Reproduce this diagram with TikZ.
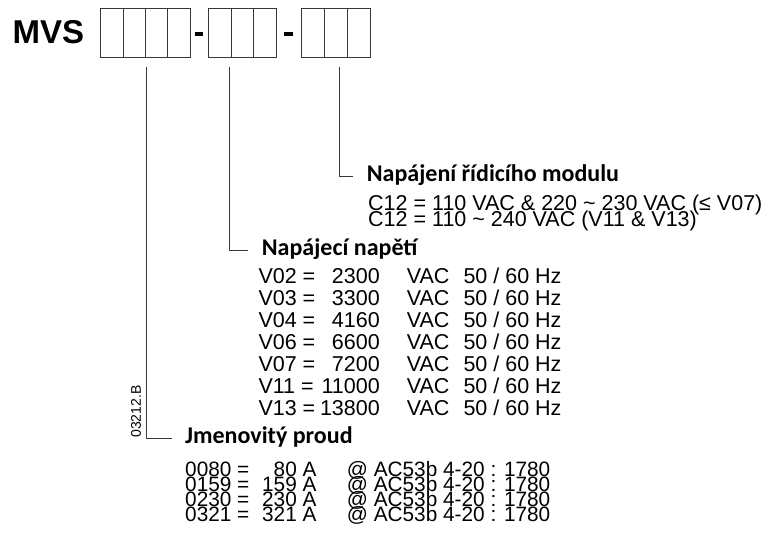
\documentclass[tikz,border=0pt]{standalone}
\usepackage{fontspec}
\setmainfont{Liberation Sans}
\newfontfamily\headfont{Carlito}
\begin{document}
\begin{tikzpicture}[x=1pt,y=-1pt,
  lin/.style={draw=black!78, line width=0.9pt},
  body/.style={inner sep=0pt, anchor=base west, font=\fontsize{21.5}{21.5}\selectfont},
  bodyr/.style={body, anchor=base east},
  small/.style={inner sep=0pt, anchor=base west, font=\fontsize{20.8}{20.8}\selectfont},
  smallr/.style={small, anchor=base east},
  head/.style={inner sep=0pt, anchor=base west, font=\headfont\bfseries\fontsize{24}{24}\selectfont},
]
\useasboundingbox (0,0) rectangle (777,542);
% title
\node[inner sep=0pt, anchor=base west, font=\bfseries\fontsize{33}{33}\selectfont] (mvs) at (12.5,43.3) {MVS};
% boxes
\foreach \x in {100.7,123.03,145.36,167.69} \draw[lin] (\x,8.3) rectangle ++(22.33,49.4);
\foreach \x in {208.3,231.1,253.9} \draw[lin] (\x,8.3) rectangle ++(22.8,49.4);
\foreach \x in {301.7,324.47,347.24} \draw[lin] (\x,8.3) rectangle ++(22.77,49.4);
\fill[black] (194.5,31.5) rectangle (203,35.7);
\fill[black] (283.5,31.5) rectangle (292.5,35.7);
% leader lines
\coordinate (t1) at (146.7,66.7);
\coordinate (t2) at (229.3,66.7);
\coordinate (t3) at (339,66.7);
\coordinate (e1) at (171.7,438.3);
\coordinate (e2) at (248,250);
\coordinate (e3) at (353,176.7);
\draw[lin] (t1) |- (e1);
\draw[lin] (t2) |- (e2);
\draw[lin] (t3) |- (e3);
% headings
\node[head] (h3) at (366.7,181.7) {Napájení řídicího modulu};
\node[head] (h2) at (261.7,255) {Napájecí napětí};
\node[head] (h1) at (185,443.3) {Jmenovitý proud};
% control supply
\node[body] (c1) at (368,210) {C12 = 110 VAC \& 220 \char"007E{} 230 VAC (≤ V07)};
\node[body] (c2) at (368,226) {C12 = 110 \char"007E{} 240 VAC (V11 \& V13)};
% voltages
\foreach \n/\v [count=\i from 0] in {V02/2300,V03/3300,V04/4160,V06/6600,V07/7200,V11/11000,V13/13800}{
  \node[body] (vl\i) at (258.3,{283.3+22*\i}) {\n\ =};
  \node[bodyr] (vn\i) at (380,{283.3+22*\i}) {\v};
  \node[body] (vu\i) at (406.7,{283.3+22*\i}) {VAC};
  \node[body] (vf\i) at (463.3,{283.3+22*\i}) {50 / 60 Hz};
}
% currents
\foreach \c/\a [count=\i from 0] in {0080/80,0159/159,0230/230,0321/321}{
  \node[small] (cl\i) at (185,{476+15.2*\i}) {\c\ =};
  \node[smallr] (ca\i) at (316.7,{476+15.2*\i}) {\a\ A};
  \node[small] (cr\i) at (346.7,{476+15.2*\i}) {@ AC53b 4-20 : 1780};
}
% drawing code
\node[inner sep=0pt, rotate=90, font=\fontsize{14}{14}\selectfont] (code) at (136,411.5) {03212.B};
\end{tikzpicture}
\end{document}
